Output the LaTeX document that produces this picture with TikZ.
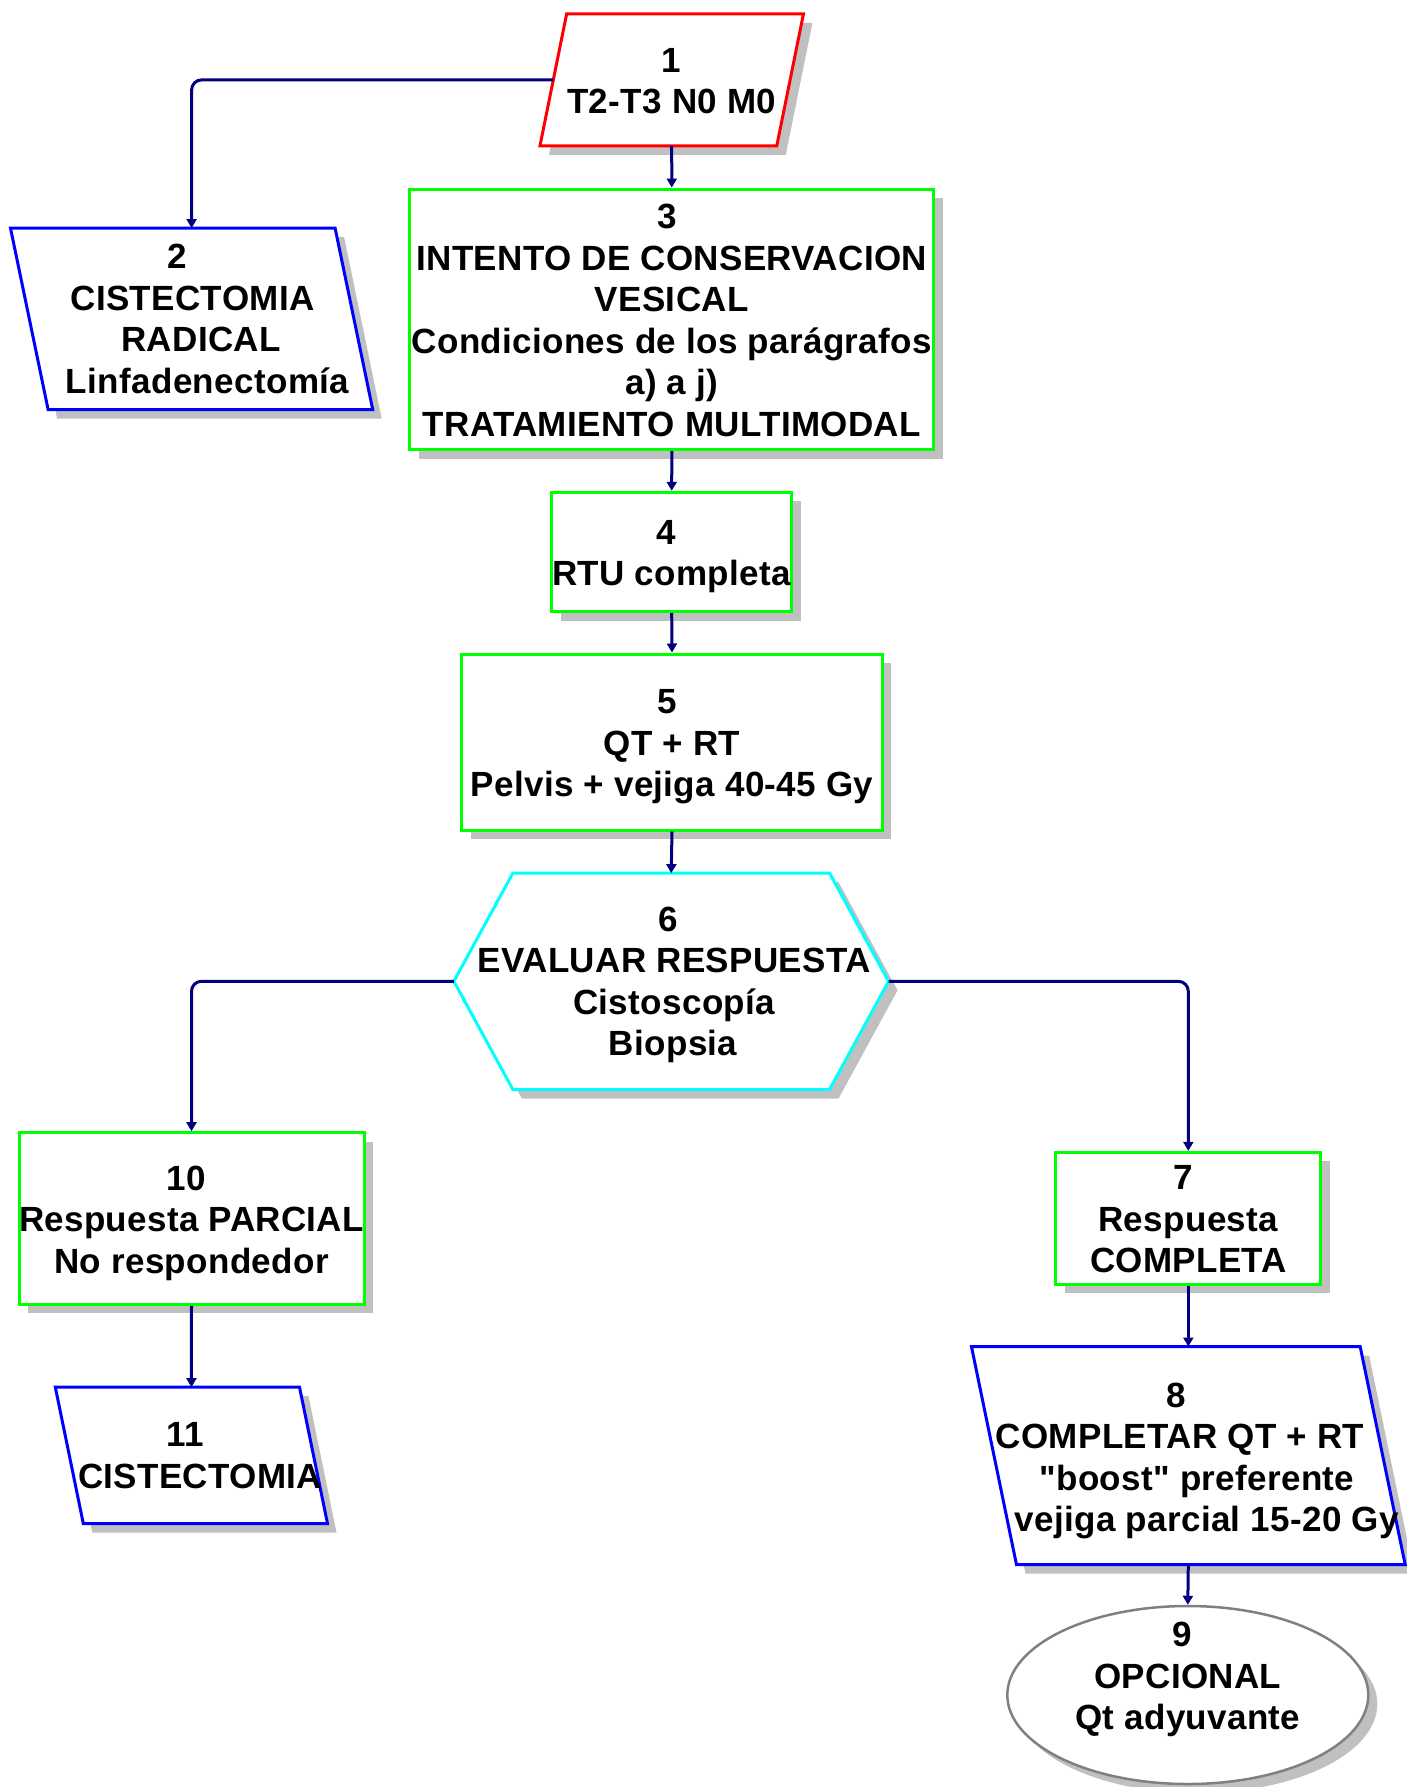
\documentclass[tikz,border=0pt]{standalone}
\usepackage{fontspec}
\setmainfont{Liberation Sans}[LetterSpace=1.0, Ligatures=TeXOff]
\usetikzlibrary{arrows.meta,shadows,shapes.geometric}

\definecolor{navyline}{HTML}{000080}
\definecolor{shadowgray}{HTML}{C0C0C0}
\definecolor{pred}{HTML}{FF0000}
\definecolor{pblue}{HTML}{0000FF}
\definecolor{pgreen}{HTML}{00FF00}
\definecolor{pcyan}{HTML}{00FFFF}
\definecolor{ovalgray}{HTML}{808080}

% shift a centred line sideways by #1
\newcommand\shiftln[2]{\hspace*{#1}\hspace*{#1}#2}
% slanted box drawn around an invisible frame node: name, top offset, bottom offset, colour
\newcommand\slantbox[4]{%
  \draw[outline, draw=#4]
    ([xshift=#2]#1.north west) -- ([xshift=#2]#1.north east) --
    ([xshift=#3]#1.south east) -- ([xshift=#3]#1.south west) -- cycle;}

\begin{document}
\begin{tikzpicture}[x=1pt,y=-1pt,
  shadowed/.style={drop shadow={shadow xshift=9pt, shadow yshift=-9pt,
      fill=shadowgray, opacity=1}},
  outline/.style={line width=3pt, fill=white, line join=miter, shadowed},
  frame/.style={rectangle, inner sep=0pt, draw=none},
  gbox/.style={rectangle, inner sep=0pt, draw=pgreen, outline},
  txt/.style={font=\fontsize{35}{41.5}\selectfont\bfseries, align=center,
      inner sep=0pt, text depth=0pt},
  conn/.style={draw=navyline, line width=3pt,
      -{Triangle[length=9pt,width=10pt]}},
]
\useasboundingbox (0,0) rectangle (1407,1787);

% ---- shapes ----
\node[frame, minimum width=236.4pt, minimum height=131.7pt] (n1) at (671.7,79.9) {};
\slantbox{n1}{13.35pt}{-13.35pt}{pred}

\node[frame, minimum width=324.2pt, minimum height=181pt] (n2) at (191.6,318.8) {};
\slantbox{n2}{-18.8pt}{18.8pt}{pblue}

\node[gbox, minimum width=524pt, minimum height=260.5pt] (n3) at (671.8,319.3) {};
\node[gbox, minimum width=240pt, minimum height=119.4pt] (n4) at (671.7,552) {};
\node[gbox, minimum width=420.6pt, minimum height=176pt] (n5) at (672,742) {};

\node[frame, minimum width=434.3pt, minimum height=216pt] (n6) at (671.2,981.3) {};
\draw[outline, draw=pcyan] (n6.west) -- ([xshift=59pt]n6.north west) --
  ([xshift=-59pt]n6.north east) -- (n6.east) -- ([xshift=-59pt]n6.south east) --
  ([xshift=59pt]n6.south west) -- cycle;

\node[gbox, minimum width=264.7pt, minimum height=131.7pt] (n7) at (1188.3,1218.2) {};

\node[frame, minimum width=388.3pt, minimum height=217.6pt] (n8) at (1188.3,1455.5) {};
\slantbox{n8}{-22.5pt}{22.5pt}{pblue}

\node[ellipse, draw=ovalgray, line width=2.5pt, fill=white, shadowed, inner sep=0pt,
  minimum width=361pt, minimum height=178pt] (n9) at (1187.8,1695) {};

\node[gbox, minimum width=345pt, minimum height=171.6pt] (n10) at (191.5,1218.5) {};

\node[frame, minimum width=243.8pt, minimum height=136pt] (n11) at (191.4,1455.3) {};
\slantbox{n11}{-14pt}{14pt}{pblue}

% ---- texts ----
\node[txt] (t1) at ([yshift=-1pt]n1.center) {1\\T2-T3 N0 M0};
\node[txt] (t2) at (n2.center) {\shiftln{-14.6pt}{2}\\\shiftln{0.9pt}{CISTECTOMIA}\\
  \shiftln{9.4pt}{RADICAL}\\\shiftln{15.9pt}{Linfadenectomía}};
\node[txt] (t3) at ([yshift=-1pt]n3.center) {\shiftln{-5pt}{3}\\INTENTO DE CONSERVACION\\
  VESICAL\\Condiciones de los parágrafos\\a) a j)\\TRATAMIENTO MULTIMODAL};
\node[txt] (t4) at ([yshift=-1pt]n4.center) {\shiftln{-5pt}{4}\\RTU completa};
\node[txt] (t5) at ([yshift=-1pt]n5.center) {\shiftln{-5pt}{5}\\QT + RT\\Pelvis + vejiga 40-45 Gy};
\node[txt] (t6) at (n6.center) {\shiftln{-3pt}{6}\\\shiftln{3pt}{EVALUAR RESPUESTA}\\
  \shiftln{3pt}{Cistoscopía}\\\shiftln{2pt}{Biopsia}};
\node[txt] (t7) at ([yshift=-1pt]n7.center) {\shiftln{-5pt}{7}\\Respuesta\\COMPLETA};
\node[txt] (t8) at ([yshift=-2pt]n8.center) {\shiftln{-12.3pt}{8}\\\shiftln{-8.3pt}{COMPLETAR QT + RT}\\
  \shiftln{8.7pt}{"boost" preferente}\\\shiftln{18.4pt}{vejiga parcial 15-20 Gy}};
\node[txt] (t9) at ([yshift=19pt]n9.center) {\shiftln{-6pt}{9}\\OPCIONAL\\Qt adyuvante};
\node[txt] (t10) at ([yshift=-1pt]n10.center) {\shiftln{-5pt}{10}\\Respuesta PARCIAL\\No respondedor};
\node[txt] (t11) at (n11.center) {\shiftln{-6.4pt}{11}\\\shiftln{8.6pt}{CISTECTOMIA}};

% ---- connectors ----
\draw[conn, rounded corners=10pt] (n1.west) -| (n2.north);
\draw[conn] (n1.south) -- (n3.north);
\draw[conn] (n3.south) -- (n4.north);
\draw[conn] (n4.south) -- (n5.north);
\draw[conn] (n5.south) -- (n6.north);
\draw[conn, rounded corners=10pt] (n6.west) -| (n10.north);
\draw[conn, rounded corners=10pt] (n6.east) -| (n7.north);
\draw[conn] (n7.south) -- (n8.north);
\draw[conn] (n8.south) -- (n9.north);
\draw[conn] (n10.south) -- (n11.north);
\end{tikzpicture}
\end{document}
